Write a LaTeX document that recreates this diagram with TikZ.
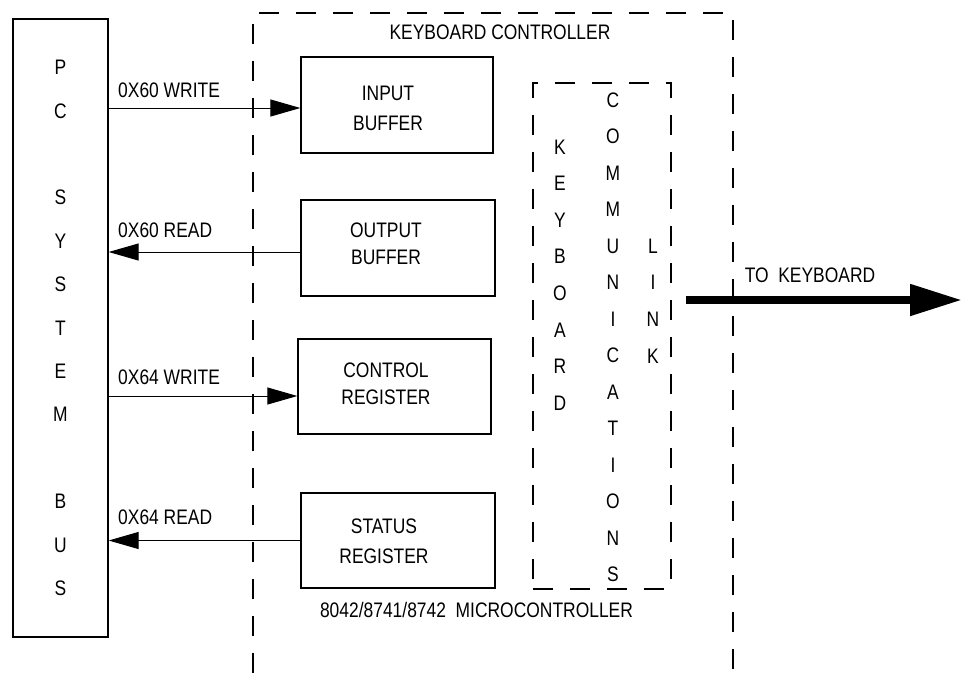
\documentclass[tikz,border=0pt]{standalone}
\usepackage{fontspec}
\setmainfont{Liberation Sans}[FakeStretch=0.83]
\usetikzlibrary{arrows.meta}
\begin{document}
\begin{tikzpicture}[x=1pt,y=-1pt,
  every node/.style={inner sep=0pt, font=\fontsize{21pt}{25pt}\selectfont},
  solidbox/.style={draw, line width=1.3pt, rectangle},
  dashbox/.style={draw, line width=1.2pt, dash pattern=on 20pt off 17pt},
  link/.style={line width=1pt, -{Triangle[length=30pt,width=17pt]}},
  bigarrow/.style={line width=8pt, -{Triangle[length=52pt,width=30pt]}},
  lbl/.style={anchor=west},
  boxtext/.style={align=center, font=\fontsize{21pt}{#1}\selectfont},
  vword/.style={align=center, font=\fontsize{21pt}{#1}\selectfont}
]
\useasboundingbox (0,0) rectangle (962,673);

% PC system bus
\node[solidbox, minimum width=95pt, minimum height=618pt, vword=43.4pt] (pc) at (60.5,328)
  {P\\C\\\mbox{}\\S\\Y\\S\\T\\E\\M\\\mbox{}\\B\\U\\S};

% keyboard controller (open dashed frame)
\coordinate (kcbl) at (253,673);
\coordinate (kctl) at (253,13);
\coordinate (kctr) at (733,13);
\coordinate (kcbr) at (733,673);
\draw[dashbox] (kcbl) -- (kctl) -- (kctr) -- (kcbr);
\node (kct) at (500,32) {KEYBOARD CONTROLLER};
\node (mct) at (476.5,609.5) {8042/8741/8742\ \ MICROCONTROLLER};

% registers
\node[solidbox, minimum width=192pt, minimum height=96pt] (ib) at (397,105) {};
\node[boxtext=30pt] (ibt) at (388,108) {INPUT\\BUFFER};
\node[solidbox, minimum width=194pt, minimum height=96pt] (ob) at (398,248) {};
\node[boxtext=27pt] (obt) at (386,243.5) {OUTPUT\\BUFFER};
\node[solidbox, minimum width=193pt, minimum height=95pt] (cr) at (394.5,386.5) {};
\node[boxtext=27pt] (crt) at (386,383.5) {CONTROL\\REGISTER};
\node[solidbox, minimum width=194pt, minimum height=95pt] (sr) at (398,540.5) {};
\node[boxtext=30pt] (srt) at (384,541) {STATUS\\REGISTER};

% keyboard communications link
\node[dashbox, minimum width=138pt, minimum height=506pt] (kcl) at (602,336) {};
\node[vword=36.6pt] (kw) at (560,275) {K\\E\\Y\\B\\O\\A\\R\\D};
\node[vword=36.5pt] (cw) at (613,337.5) {C\\O\\M\\M\\U\\N\\I\\C\\A\\T\\I\\O\\N\\S};
\node[vword=36.7pt] (lw) at (653,301) {L\\I\\N\\K};

% bus connectors
\coordinate (ibin) at ([yshift=-3pt]ib.west);
\coordinate (obout) at ([yshift=-4pt]ob.west);
\coordinate (crin) at ([yshift=-9.5pt]cr.west);
\coordinate (srout) at (sr.west);
\draw[link] (pc.east |- ibin) -- (ibin);
\draw[link] (obout) -- (pc.east |- obout);
\draw[link] (pc.east |- crin) -- (crin);
\draw[link] (srout) -- (pc.east |- srout);
\node[lbl] (w60) at (118,90) {0X60 WRITE};
\node[lbl] (r60) at (118,230) {0X60 READ};
\node[lbl] (w64) at (118,377.5) {0X64 WRITE};
\node[lbl] (r64) at (118,517.5) {0X64 READ};

% to keyboard
\coordinate (tkstart) at ([xshift=14pt,yshift=36pt]kcl.east);
\coordinate (tkend) at (962,300);
\draw[bigarrow] (tkstart) -- (tkend);
\node (tkt) at (810,275) {TO\ \ KEYBOARD};
\end{tikzpicture}
\end{document}
